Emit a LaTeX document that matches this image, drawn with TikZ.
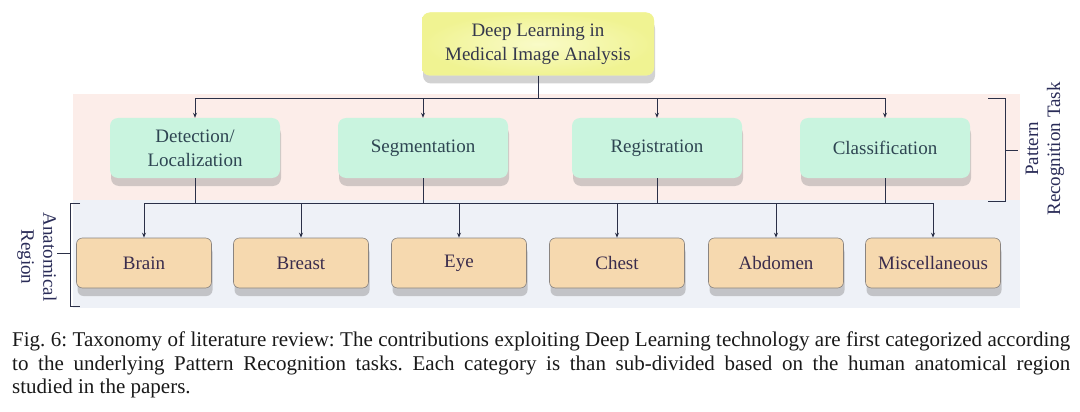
\documentclass[tikz,border=0pt]{standalone}
\usepackage{fontspec}
\setmainfont{Liberation Serif}
\usetikzlibrary{shadows,arrows.meta}
\definecolor{rootfill}{HTML}{F6F9AC}
\definecolor{rootedge}{HTML}{F0F392}
\definecolor{rootin}{HTML}{F9FBC8}
\definecolor{taskfill}{HTML}{C9F4DF}
\definecolor{regfill}{HTML}{F6D9AF}
\definecolor{regedge}{HTML}{8A8480}
\definecolor{linecol}{HTML}{2B3048}
\definecolor{pinkbg}{HTML}{FCEDE9}
\definecolor{bluebg}{HTML}{EEF1F7}
\definecolor{tasktext}{HTML}{2E4552}
\definecolor{regtext}{HTML}{3A2C4C}
\definecolor{roottext}{HTML}{35384C}
\definecolor{labtext}{HTML}{2A2C58}
\tikzset{
  boxfont/.style={font=\fontsize{19}{24}\selectfont},
  rootbox/.style={boxfont, rectangle, rounded corners=8pt, fill=rootfill, inner color=rootin, outer color=rootedge,
    minimum width=232pt, minimum height=63pt, align=center, text=roottext,
    drop shadow={shadow xshift=1pt, shadow yshift=-8pt, opacity=0.35, fill=gray}},
  taskbox/.style={boxfont, rectangle, rounded corners=8pt, fill=taskfill,
    minimum width=170pt, minimum height=60pt, align=center, text=tasktext,
    drop shadow={shadow xshift=1pt, shadow yshift=-8pt, opacity=0.35, fill=gray}},
  regbox/.style={boxfont, rectangle, rounded corners=6pt, fill=regfill, draw=regedge, line width=0.6pt,
    minimum width=135pt, minimum height=50pt, align=center, text=regtext,
    drop shadow={shadow xshift=1pt, shadow yshift=-8pt, opacity=0.4, fill=gray}},
  conn/.style={draw=linecol, line width=0.9pt},
  arr/.style={conn, -{Stealth[length=5pt,width=4pt]}},
  brace/.style={draw=linecol, line width=0.9pt},
  sidelabel/.style={font=\fontsize{19}{22}\selectfont, align=center, text=labtext, inner sep=0pt}
}
\begin{document}
\begin{tikzpicture}[x=1pt,y=-1pt]
\useasboundingbox (0,0) rectangle (1080,412);
\fill[white] (0,0) rectangle (1080,412);
% background bands
\fill[pinkbg] (73,94) rectangle (1020,200);
\fill[bluebg] (73,200) rectangle (1020,308);

% root
\node[rootbox] (root) at (538,44) {Deep Learning in\\Medical Image Analysis};

% tasks
\node[taskbox] (det) at (195,148) {Detection/\\Localization};
\node[taskbox] (seg) at (423,148) {Segmentation};
\node[taskbox] (reg) at (657,148) {Registration};
\node[taskbox] (cls) at (885,148) {Classification};

% regions
\node[regbox] (brain) at (144,263) {Brain};
\node[regbox] (breast) at (301,263) {Breast};
\node[regbox] (eye) at (459,263) {Eye};
\node[regbox] (chest) at (617,263) {Chest};
\node[regbox] (abd) at (776,263) {Abdomen};
\node[regbox] (misc) at (933,263) {Miscellaneous};

% connectors level 1
\coordinate (hubA) at (538,98);
\draw[conn] (root.south) -- (hubA);
\foreach \t in {det,seg,reg,cls} \draw[arr] (hubA) -| (\t.north);

% connectors level 2
\coordinate (hubB) at (538,203);
\foreach \t in {det,seg,reg,cls} \draw[conn] (\t.south) -- (\t.south |- hubB);
\foreach \r in {brain,breast,eye,chest,abd,misc} \draw[arr] (hubB) -| (\r.north);

% right bracket
\coordinate (rb1) at (988,98);
\coordinate (rb2) at (1005,98);
\coordinate (rb3) at (1005,201);
\coordinate (rb4) at (988,201);
\coordinate (rbm) at (1005,150);
\coordinate (rbt) at (1018,150);
\draw[brace] (rb1) -- (rb2) -- (rb3) -- (rb4);
\draw[brace] (rbm) -- (rbt);
\node[sidelabel, rotate=90] (ptask) at (1045,149) {Pattern\\Recognition Task};

% left bracket
\coordinate (lb1) at (80,203);
\coordinate (lb2) at (70,203);
\coordinate (lb3) at (70,306);
\coordinate (lb4) at (80,306);
\coordinate (lbm) at (70,253);
\coordinate (lbt) at (57,253);
\draw[brace] (lb1) -- (lb2) -- (lb3) -- (lb4);
\draw[brace] (lbm) -- (lbt);
\node[sidelabel, rotate=-90] (anat) at (37,257) {Anatomical\\Region};

% caption
\node[anchor=north west, inner sep=0pt, text width=1058pt, align=justify,
      font=\fontsize{21}{23.5}\selectfont\frenchspacing, text=black!90] (cap) at (12,332)
  {Fig. 6: Taxonomy of literature review: The contributions exploiting Deep Learning technology are first categorized according\linebreak to the underlying Pattern Recognition tasks. Each category is than sub-divided based on the human anatomical region\linebreak studied in the papers.};
\end{tikzpicture}
\end{document}
